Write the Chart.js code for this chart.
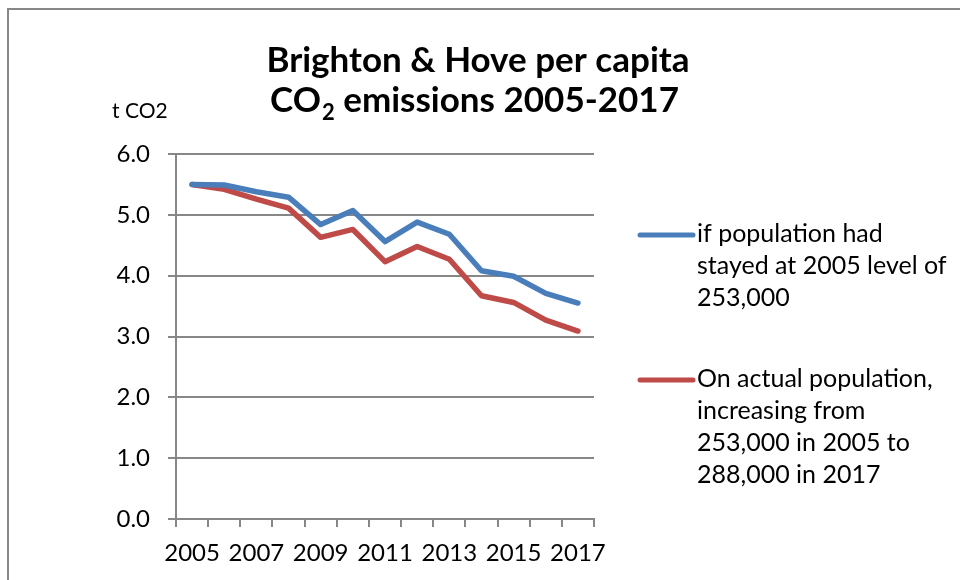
<!DOCTYPE html>
<html>
<head>
<meta charset="utf-8">
<script src="https://cdn.jsdelivr.net/npm/chart.js@4.4.1/dist/chart.umd.min.js"></script>
<style>
  body { margin: 0; background: #fff; }
  canvas { display: block; }
</style>
</head>
<body>
<canvas id="co2Chart" width="960" height="580"></canvas>
<script>
// Data
const years = ['2005', '2006', '2007', '2008', '2009', '2010', '2011', '2012', '2013', '2014', '2015', '2016', '2017'];
const fixedPopulation = [5.50, 5.49, 5.38, 5.29, 4.84, 5.07, 4.56, 4.88, 4.68, 4.08, 3.99, 3.71, 3.55];
const actualPopulation = [5.50, 5.42, 5.26, 5.11, 4.63, 4.76, 4.23, 4.48, 4.27, 3.67, 3.56, 3.27, 3.09];
const fixedLabel = ['if population had', 'stayed at 2005 level of', '253,000'];
const actualLabel = ['On actual population,', 'increasing from', '253,000 in 2005 to', '288,000 in 2017'];
const titleLine1 = 'Brighton & Hove per capita';
const unitLabel = 't CO2';

const gridGrey = '#878787';
const fontFamily = 'Lato, "Open Sans", sans-serif';

// White background, frame, title, unit label and the legend on the right
const decorations = {
    id: 'decorations',
    beforeDraw(chart) {
        const ctx = chart.ctx;
        ctx.save();
        ctx.fillStyle = '#fff';
        ctx.fillRect(0, 0, chart.width, chart.height);
        ctx.strokeStyle = gridGrey;
        ctx.lineWidth = 2;
        ctx.strokeRect(8, 9, chart.width + 20, chart.height + 20);
        ctx.restore();
    },
    afterDraw(chart) {
        const ctx = chart.ctx;
        ctx.save();
        ctx.fillStyle = '#000';
        ctx.textBaseline = 'alphabetic';

        // title line 1
        ctx.font = 'bold 35px ' + fontFamily;
        ctx.textAlign = 'center';
        ctx.fillText(titleLine1, 478, 72);

        // title line 2 with subscript 2
        ctx.textAlign = 'left';
        const big = 'bold 35px ' + fontFamily;
        const small = 'bold 22px ' + fontFamily;
        ctx.font = big;
        const wCO = ctx.measureText('CO').width;
        const wRest = ctx.measureText(' emissions 2005-2017').width;
        ctx.font = small;
        const wSub = ctx.measureText('2').width;
        let x = 474 - (wCO + wSub + wRest) / 2;
        ctx.font = big;
        ctx.fillText('CO', x, 112);
        x += wCO;
        ctx.font = small;
        ctx.fillText('2', x + 1, 120);
        x += wSub + 1;
        ctx.font = big;
        ctx.fillText(' emissions 2005-2017', x, 112);

        // unit label
        ctx.font = '21px ' + fontFamily;
        ctx.fillText(unitLabel, 112, 118);

        // legend
        const entries = [
            { lines: fixedLabel, y: 235, base: 242 },
            { lines: actualLabel, y: 380, base: 387 }
        ];
        ctx.font = '25px ' + fontFamily;
        entries.forEach((e, i) => {
            const ds = chart.data.datasets[i];
            ctx.strokeStyle = ds.borderColor;
            ctx.lineWidth = 5;
            ctx.lineCap = 'round';
            ctx.beginPath();
            ctx.moveTo(640, e.y);
            ctx.lineTo(693, e.y);
            ctx.stroke();
            e.lines.forEach((line, j) => {
                ctx.fillText(line, 697, e.base + j * 32);
            });
        });
        ctx.restore();
    }
};

const ctx = document.getElementById('co2Chart').getContext('2d');
new Chart(ctx, {
    type: 'line',
    data: {
        labels: years,
        datasets: [{
            label: fixedLabel.join(' '),
            data: fixedPopulation,
            borderColor: '#4A7EBB',
            borderWidth: 5.5,
            pointRadius: 0,
            borderJoinStyle: 'round',
            borderCapStyle: 'round',
            tension: 0
        }, {
            label: actualLabel.join(' '),
            data: actualPopulation,
            borderColor: '#BE4B48',
            borderWidth: 5.5,
            pointRadius: 0,
            borderJoinStyle: 'round',
            borderCapStyle: 'round',
            tension: 0
        }]
    },
    options: {
        responsive: false,
        animation: false,
        devicePixelRatio: 1,
        layout: { padding: { left: 100, top: 154, right: 366, bottom: 0 } },
        plugins: {
            legend: { display: false },
            tooltip: { enabled: false },
            title: { display: false }
        },
        scales: {
            x: {
                offset: true,
                grid: {
                    offset: true,
                    drawOnChartArea: false,
                    drawTicks: true,
                    tickLength: 8,
                    color: gridGrey,
                    lineWidth: 2
                },
                border: { color: gridGrey, width: 2 },
                ticks: {
                    autoSkip: false,
                    maxRotation: 0,
                    padding: 12,
                    color: '#000',
                    font: { family: fontFamily, size: 24 },
                    callback: function(value, index) {
                        return index % 2 === 0 ? years[index] : '';
                    }
                },
                afterFit: function(scale) { scale.height = 61; }
            },
            y: {
                min: 0,
                max: 6,
                grid: {
                    color: gridGrey,
                    lineWidth: 2,
                    tickLength: 8
                },
                border: { color: gridGrey, width: 2 },
                ticks: {
                    stepSize: 1,
                    padding: 18,
                    color: '#000',
                    font: { family: fontFamily, size: 24 },
                    callback: function(value) { return value.toFixed(1); }
                },
                afterFit: function(scale) { scale.width = 76; }
            }
        }
    },
    plugins: [decorations]
});
</script>
</body>
</html>
